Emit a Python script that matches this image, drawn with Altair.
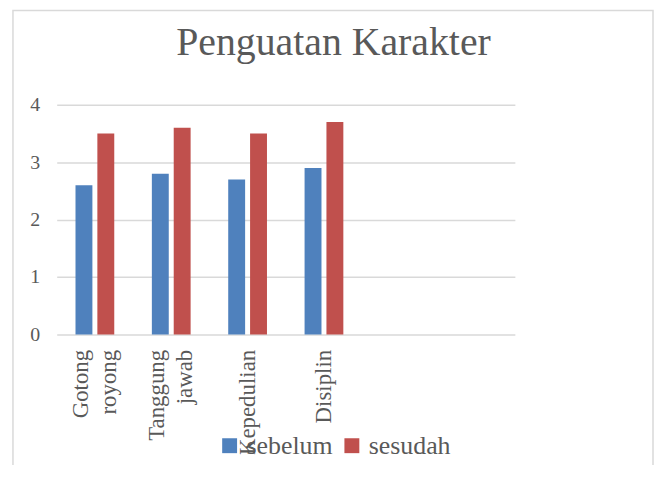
import altair as alt
import pandas as pd

# ---- data ----
categories = ["Gotong royong", "Tanggung jawab", "Kepedulian", "Disiplin"]
empty_slots = ["_5", "_6"]          # two empty category slots on the right
series = ["sebelum", "sesudah"]
sebelum = [2.6, 2.8, 2.7, 2.9]
sesudah = [3.5, 3.6, 3.5, 3.7]
y_ticks = [0, 1, 2, 3, 4]
colors = ["#4f81bd", "#c0504d"]

rows = []
for c, a, b in zip(categories, sebelum, sesudah):
    rows.append({"kategori": c, "seri": "sebelum", "nilai": a})
    rows.append({"kategori": c, "seri": "sesudah", "nilai": b})
df = pd.DataFrame(rows)

FONT = "Liberation Serif"
TXT = "#595959"
GRID = "#d9d9d9"

frame = alt.Chart(pd.DataFrame({"f": [0]})).mark_rect(
    fill="white", fillOpacity=0, stroke=GRID, strokeWidth=1.5
).encode(
    x=alt.value(-44), x2=alt.value(600), y=alt.value(-95), y2=alt.value(480)
)

bars = alt.Chart(df).mark_bar().encode(
    x=alt.X(
        "kategori:N",
        sort=categories + empty_slots,
        scale=alt.Scale(domain=categories + empty_slots,
                        paddingInner=0.4924, paddingOuter=0.2462),
        axis=alt.Axis(
            title=None, labelAngle=270, domain=False, ticks=False,
            labelPadding=15, labelFont=FONT, labelFontSize=23,
            labelColor=TXT, labelLineHeight=28,
            labelOffset={"condition": {"test": "indexof(datum.value, ' ') >= 0", "value": -14}, "value": 0},
            labelExpr="substring(datum.value,0,1) == '_' ? '' : split(datum.value, ' ')",
        ),
    ),
    xOffset=alt.XOffset("seri:N", scale=alt.Scale(domain=series, paddingInner=0.227, paddingOuter=0)),
    y=alt.Y(
        "nilai:Q",
        scale=alt.Scale(domain=[0, 4], nice=False),
        axis=alt.Axis(
            title=None, values=y_ticks, grid=True, gridColor=GRID, gridWidth=1.5,
            domain=False, ticks=False, labelPadding=17, labelFont=FONT,
            labelFontSize=20, labelColor=TXT,
        ),
    ),
    color=alt.Color(
        "seri:N",
        scale=alt.Scale(domain=series, range=colors),
        legend=alt.Legend(
            title=None, orient="none", direction="horizontal",
            legendX=161, legendY=330, symbolType="square", symbolSize=225,
            symbolStrokeWidth=0, labelFont=FONT, labelFontSize=26,
            labelColor=TXT, labelOffset=4, columnPadding=6, padding=0,
        ),
    ),
)

chart = alt.layer(frame, bars).properties(
    width=461,
    height=231,
    padding={"left": 49, "top": 96, "right": 140, "bottom": 130},
    autosize="none",
    title=alt.Title(
        "Penguatan Karakter", font=FONT, fontSize=40, fontWeight="normal",
        color=TXT, anchor="middle", frame="group", dx=48, dy=122, offset=36,
        baseline="alphabetic",
    ),
).configure_view(strokeWidth=0)

chart.save("out.html", embed_options={"renderer": "svg", "actions": False})
